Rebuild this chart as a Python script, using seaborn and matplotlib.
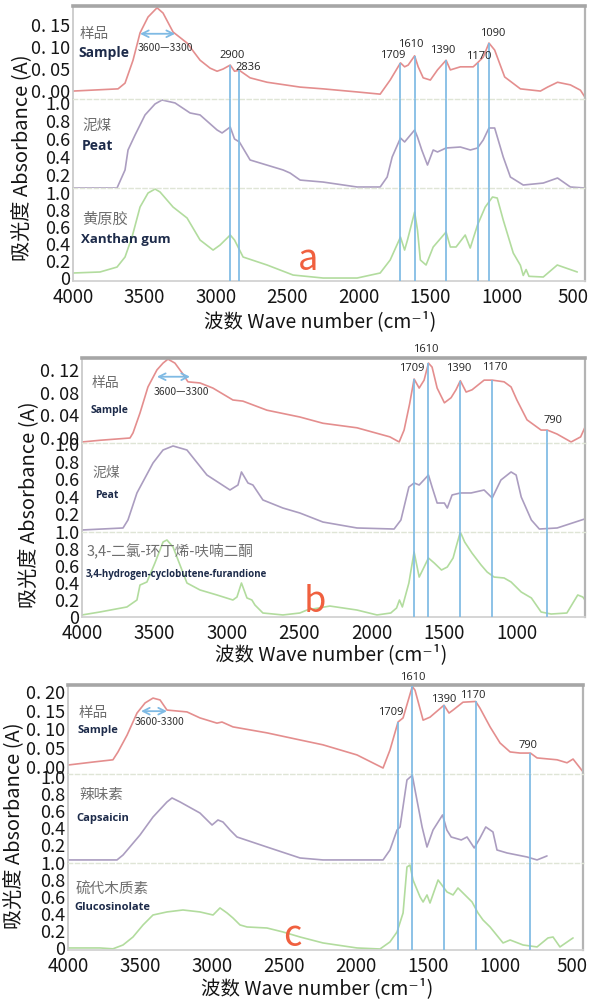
import numpy as np
import matplotlib.pyplot as plt
import seaborn as sns

W, H = 590, 1001

# ---------------- panel a ----------------
a_sample_wn = [4000, 3685, 3636, 3580, 3531, 3475, 3412, 3370, 3300, 3202, 3111, 3041, 2992, 2950, 2900, 2870,
               2836, 2761, 2642, 2411, 2250, 2012, 1851, 1781, 1709, 1680, 1655, 1610, 1585, 1550, 1500, 1450,
               1390, 1360, 1290, 1200, 1170, 1130, 1090, 1050, 980, 870, 730, 680, 610, 520, 450, 418]
a_sample_abs = [0.000, 0.005, 0.018, 0.070, 0.132, 0.168, 0.189, 0.177, 0.134, 0.109, 0.070, 0.052, 0.045, 0.050,
                0.059, 0.045, 0.047, 0.030, 0.020, 0.009, 0.005, -0.002, -0.007, 0.025, 0.064, 0.055, 0.059, 0.080,
                0.055, 0.030, 0.025, 0.048, 0.070, 0.048, 0.055, 0.055, 0.064, 0.077, 0.109, 0.093, 0.032, 0.005,
                0.000, 0.009, 0.020, 0.014, 0.002, -0.014]

a_peat_wn = [4000, 3692, 3636, 3615, 3566, 3496, 3426, 3377, 3286, 3181, 3111, 2992, 2957, 2900, 2870, 2836,
             2761, 2530, 2481, 2411, 2250, 2012, 1851, 1802, 1767, 1709, 1680, 1610, 1590, 1560, 1520, 1480,
             1450, 1390, 1290, 1220, 1170, 1130, 1090, 1050, 990, 940, 850, 710, 610, 520, 418]
a_peat_abs = [0.056, 0.056, 0.256, 0.478, 0.644, 0.867, 0.989, 1.033, 1.000, 0.889, 0.867, 0.700, 0.667, 0.733,
              0.600, 0.567, 0.367, 0.256, 0.222, 0.144, 0.122, 0.067, 0.067, 0.178, 0.400, 0.611, 0.567, 0.700,
              0.622, 0.478, 0.311, 0.478, 0.456, 0.500, 0.511, 0.478, 0.500, 0.589, 0.722, 0.722, 0.400, 0.178,
              0.089, 0.111, 0.167, 0.067, 0.056]

a_xanthan_wn = [4000, 3811, 3692, 3636, 3587, 3531, 3475, 3426, 3391, 3300, 3202, 3111, 3020, 2971, 2900, 2870,
                2810, 2642, 2460, 2250, 2012, 1851, 1781, 1709, 1680, 1660, 1610, 1590, 1570, 1530, 1480, 1390,
                1360, 1320, 1256, 1221, 1170, 1116, 1065, 1032, 990, 920, 870, 850, 830, 810, 710, 612, 472]
a_xanthan_abs = [0.059, 0.071, 0.129, 0.247, 0.482, 0.835, 1.000, 1.047, 1.012, 0.835, 0.706, 0.447, 0.329,
                 0.388, 0.506, 0.447, 0.247, 0.153, 0.035, 0.000, 0.000, 0.059, 0.212, 0.482, 0.329, 0.447, 0.776,
                 0.565, 0.212, 0.153, 0.365, 0.541, 0.365, 0.365, 0.506, 0.353, 0.624, 0.835, 0.953, 0.941, 0.682,
                 0.294, 0.150, 0.030, 0.100, 0.020, 0.012, 0.153, 0.071]

a_peaks = [2900, 2836, 1709, 1610, 1390, 1170, 1090]
a_band = [3531, 3286]

# ---------------- panel b ----------------
b_sample_wn = [4000, 3876, 3669, 3648, 3600, 3545, 3483, 3441, 3407, 3359, 3310, 3269, 3186, 3097, 2959, 2890,
               2724, 2497, 2338, 2103, 1876, 1812, 1778, 1740, 1709, 1674, 1640, 1610, 1585, 1550, 1500, 1454,
               1420, 1390, 1350, 1309, 1226, 1170, 1088, 1040, 1000, 930, 833, 790, 723, 626, 560, 530]
b_sample_abs = [-0.007, -0.004, 0.000, 0.009, 0.044, 0.090, 0.120, 0.132, 0.139, 0.132, 0.115, 0.099, 0.097,
                0.088, 0.067, 0.065, 0.049, 0.037, 0.026, 0.018, 0.002, -0.007, 0.014, 0.060, 0.104, 0.088,
                0.102, 0.132, 0.125, 0.088, 0.062, 0.071, 0.085, 0.101, 0.081, 0.085, 0.102, 0.102, 0.099,
                0.090, 0.067, 0.032, 0.014, 0.014, 0.007, -0.007, 0.002, 0.019]

b_peat_wn = [4000, 3717, 3683, 3621, 3510, 3441, 3372, 3276, 3138, 2979, 2924, 2900, 2855, 2821, 2752, 2614,
             2497, 2338, 2103, 1847, 1800, 1745, 1709, 1674, 1610, 1585, 1550, 1500, 1480, 1447, 1390, 1316,
             1226, 1170, 1110, 1040, 1005, 970, 900, 845, 722, 530]
b_peat_abs = [0.023, 0.046, 0.137, 0.446, 0.789, 0.937, 0.983, 0.937, 0.651, 0.480, 0.537, 0.686, 0.560, 0.537,
              0.366, 0.274, 0.217, 0.114, 0.046, 0.034, 0.137, 0.514, 0.560, 0.537, 0.651, 0.514, 0.331, 0.331,
              0.274, 0.423, 0.446, 0.446, 0.480, 0.389, 0.594, 0.686, 0.651, 0.400, 0.137, 0.034, 0.046, 0.150]

b_furan_wn = [4000, 3876, 3690, 3621, 3600, 3552, 3497, 3441, 3414, 3372, 3324, 3276, 3186, 3069, 2959, 2931,
              2900, 2862, 2828, 2807, 2752, 2614, 2497, 2448, 2290, 2103, 1965, 1870, 1830, 1810, 1790, 1745,
              1709, 1674, 1640, 1610, 1570, 1520, 1480, 1440, 1415, 1390, 1360, 1310, 1247, 1205, 1157, 1088,
              1040, 970, 900, 833, 764, 655, 580, 545, 530]
b_furan_abs = [0.024, 0.059, 0.118, 0.200, 0.376, 0.412, 0.635, 0.882, 0.906, 0.824, 0.612, 0.400, 0.318, 0.259,
               0.200, 0.235, 0.400, 0.224, 0.200, 0.141, 0.047, 0.024, 0.047, 0.082, 0.129, 0.082, 0.024, 0.047,
               0.106, 0.200, 0.118, 0.400, 0.765, 0.470, 0.588, 0.694, 0.635, 0.553, 0.588, 0.694, 0.850, 1.000,
               0.882, 0.753, 0.612, 0.529, 0.470, 0.459, 0.412, 0.294, 0.224, 0.059, 0.035, 0.047, 0.259, 0.235,
               0.200]

b_peaks = [1709, 1610, 1390, 1170, 790]
b_band = [3483, 3255]

# ---------------- panel c ----------------
c_sample_wn = [4000, 3826, 3688, 3653, 3590, 3521, 3465, 3410, 3361, 3313, 3174, 3084, 2966, 2931, 2855, 2619,
               2389, 2230, 1994, 1813, 1765, 1709, 1674, 1610, 1591, 1535, 1487, 1390, 1355, 1327, 1258, 1170,
               1140, 1070, 1001, 931, 862, 790, 744, 605, 536, 494, 425]
c_sample_abs = [0.005, 0.013, 0.019, 0.040, 0.085, 0.144, 0.171, 0.184, 0.179, 0.152, 0.147, 0.131, 0.117,
                0.120, 0.107, 0.091, 0.072, 0.059, 0.032, -0.003, 0.045, 0.120, 0.131, 0.215, 0.205, 0.125,
                0.133, 0.165, 0.144, 0.152, 0.173, 0.175, 0.157, 0.107, 0.064, 0.040, 0.037, 0.037, 0.024,
                0.019, 0.011, 0.021, -0.013]

c_caps_wn = [4000, 3660, 3618, 3500, 3410, 3313, 3278, 3222, 3084, 3000, 2959, 2924, 2875, 2827, 2619, 2389,
             2230, 1813, 1765, 1716, 1695, 1647, 1610, 1591, 1542, 1508, 1466, 1400, 1370, 1340, 1270, 1230,
             1180, 1140, 1100, 1050, 1022, 952, 814, 744, 675]
c_caps_abs = [0.024, 0.024, 0.082, 0.318, 0.529, 0.706, 0.753, 0.706, 0.576, 0.435, 0.494, 0.470, 0.376, 0.294,
              0.176, 0.047, 0.024, 0.024, 0.141, 0.376, 0.412, 0.965, 1.020, 0.847, 0.412, 0.176, 0.376, 0.553,
              0.376, 0.294, 0.259, 0.294, 0.165, 0.282, 0.412, 0.353, 0.141, 0.106, 0.059, 0.024, 0.071]

c_gluc_wn = [4000, 3778, 3688, 3618, 3549, 3479, 3410, 3313, 3202, 3084, 2993, 2945, 2896, 2855, 2806, 2757,
             2619, 2507, 2389, 2230, 1994, 1834, 1765, 1716, 1674, 1647, 1626, 1605, 1556, 1535, 1508, 1487,
             1431, 1369, 1327, 1293, 1258, 1195, 1154, 1119, 1070, 1036, 980, 931, 841, 744, 668, 633, 585,
             515, 494]
c_gluc_abs = [0.000, 0.000, -0.010, 0.035, 0.129, 0.271, 0.388, 0.424, 0.447, 0.424, 0.388, 0.471, 0.412, 0.353,
              0.271, 0.247, 0.235, 0.188, 0.129, 0.059, 0.000, -0.012, 0.071, 0.188, 0.412, 0.953, 0.976, 0.800,
              0.600, 0.541, 0.624, 0.529, 0.800, 0.659, 0.624, 0.706, 0.647, 0.541, 0.412, 0.329, 0.247, 0.176,
              0.059, 0.094, 0.035, 0.012, 0.118, 0.129, 0.012, 0.094, 0.118]

c_peaks = [1709, 1610, 1390, 1170, 790]
c_band = [3493, 3313]

# ---------------- style ----------------
sns.set_theme(style="white")
plt.rcParams['font.family'] = ['Noto Sans CJK SC', 'DejaVu Sans']

RED = '#e48e8e'
PURPLE = '#ab9dc0'
GREEN = '#b2dc9e'
BLUE = '#7fbae4'
NAVY = '#1d2b4a'
GREY = '#6e6e6e'
LETTER = '#f0603f'

fig = plt.figure(figsize=(W / 100, H / 100), dpi=100)


def fxy(x, y):
    return x / W, 1 - y / H


def stack_axes(left, right, edges):
    axes = []
    for i in range(3):
        top, bottom = edges[i], edges[i + 1]
        axes.append(fig.add_axes([left / W, 1 - bottom / H, (right - left) / W, (bottom - top) / H]))
    return axes


def style_stack(axes, xlim, xticks, ylims, yticks, ylabels):
    for i, ax in enumerate(axes):
        ax.set_xlim(*xlim)
        ax.set_ylim(*ylims[i])
        ax.set_yticks(yticks[i], ylabels[i])
        ax.set_xlabel('')
        ax.set_ylabel('')
        ax.set_facecolor('white')
        ax.spines['left'].set_color('#c8c8c8')
        ax.spines['right'].set_color('#b4b4b4')
        ax.spines['right'].set_linewidth(1.6)
        ax.tick_params(axis='y', direction='in', length=3, color='#bdbdbd', labelsize=13, pad=2,
                       labelcolor='#151515')
        if i == 0:
            ax.spines['top'].set_color('#a6a6a6')
            ax.spines['top'].set_linewidth(2.6)
        else:
            ax.spines['top'].set_color('#dfe5d6')
            ax.spines['top'].set_linewidth(1.0)
            ax.spines['top'].set_linestyle((0, (3, 2)))
        if i < 2:
            ax.spines['bottom'].set_visible(False)
            ax.set_xticks(xticks)
            ax.tick_params(axis='x', labelbottom=False, length=0)
        else:
            ax.spines['bottom'].set_color('#d0d0d0')
            ax.set_xticks(xticks, [str(t) for t in xticks])
            ax.tick_params(axis='x', length=0, labelsize=13.5, pad=4, labelcolor='#151515')


def draw_curves(axes, series):
    for ax, (wn, ab, color) in zip(axes, series):
        sns.lineplot(x=wn, y=ab, ax=ax, color=color, lw=1.2, sort=False, estimator=None)


def draw_peaks(axes, peaks, sample_wn, sample_abs, offsets):
    tops = np.interp(peaks, sample_wn[::-1], sample_abs[::-1])
    ax0 = axes[0]
    ax0.vlines(peaks, ax0.get_ylim()[0], tops, color=BLUE, lw=1.25, zorder=3)
    for ax in axes[1:]:
        ax.vlines(peaks, *ax.get_ylim(), color=BLUE, lw=1.25, zorder=3)
    for p, t, (dx, dy) in zip(peaks, tops, offsets):
        ax0.annotate(str(p), xy=(p, t), xytext=(dx * 0.72, dy * 0.72), textcoords='offset points',
                     ha='center', va='center', fontsize=8, color='#222222', family=['Open Sans', 'DejaVu Sans'])


def draw_band(ax, band, level, label, label_xy):
    ax.annotate('', xy=(band[1], level), xytext=(band[0], level),
                arrowprops=dict(arrowstyle='<->', color=BLUE, lw=1.3, shrinkA=0, shrinkB=0))
    fig.text(*fxy(*label_xy), label, ha='center', va='center', fontsize=7.5, color='#333333')


def name_labels(items):
    for text, x, y, size, bold in items:
        if bold:
            fig.text(*fxy(x, y), text, ha='left', va='center', fontsize=size, color=NAVY, fontweight='bold',
                     family=['Open Sans', 'DejaVu Sans'])
        else:
            fig.text(*fxy(x, y), text, ha='left', va='center', fontsize=size, color=GREY)


def axis_titles(ylab_xy, xlab_xy):
    fig.text(*fxy(*ylab_xy), '吸光度 Absorbance (A)', rotation=90, ha='center', va='center', fontsize=14.5,
             color='#151515')
    fig.text(*fxy(*xlab_xy), '波数 Wave number (cm⁻¹)', ha='center', va='center', fontsize=14,
             color='#151515')


# ---------------- panel a ----------------
axes_a = stack_axes(73, 585, [6, 99, 188, 281])
draw_curves(axes_a, [(a_sample_wn, a_sample_abs, RED), (a_peat_wn, a_peat_abs, PURPLE),
                     (a_xanthan_wn, a_xanthan_abs, GREEN)])
style_stack(axes_a, (4000, 418), [4000, 3500, 3000, 2500, 2000, 1500, 1000, 500],
            [(-0.018, 0.193), (0.056, 1.044), (-0.035, 1.059)],
            [[0, 0.05, 0.10, 0.15], [0.2, 0.4, 0.6, 0.8, 1.0], [0, 0.2, 0.4, 0.6, 0.8, 1.0]],
            [['0. 00', '0. 05', '0. 10', '0. 15'], ['0.2', '0.4', '0.6', '0.8', '1.0'],
             ['0', '0.2', '0.4', '0.6', '0.8', '1.0']])
draw_peaks(axes_a, a_peaks, a_sample_wn, a_sample_abs,
           [(2, 10), (9, 3), (-8, 7), (-4, 11), (-3, 10), (1, 6), (4, 10)])
draw_band(axes_a[0], a_band, 0.130, '3600—3300', (165, 48))
name_labels([('样品', 80, 34, 10.5, False), ('Sample', 78, 53, 10, True),
             ('泥煤', 82, 126, 10.5, False), ('Peat', 82, 146, 10, True),
             ('黄原胶', 82, 219, 11, False), ('Xanthan gum', 81, 239, 9.5, True)])
fig.text(*fxy(308, 270), 'a', ha='center', va='baseline', fontsize=26, color=LETTER)
axis_titles((22, 158), (320, 322))

# ---------------- panel b ----------------
axes_b = stack_axes(82, 585, [358, 443, 532, 617])
draw_curves(axes_b, [(b_sample_wn, b_sample_abs, RED), (b_peat_wn, b_peat_abs, PURPLE),
                     (b_furan_wn, b_furan_abs, GREEN)])
style_stack(axes_b, (4000, 530), [4000, 3500, 3000, 2500, 2000, 1500, 1000],
            [(-0.0088, 0.141), (0.0, 1.017), (0.0, 1.0)],
            [[0, 0.04, 0.08, 0.12], [0.2, 0.4, 0.6, 0.8, 1.0], [0, 0.2, 0.4, 0.6, 0.8, 1.0]],
            [['0. 00', '0. 04', '0. 08', '0. 12'], ['0.2', '0.4', '0.6', '0.8', '1.0'],
             ['0', '0.2', '0.4', '0.6', '0.8', '1.0']])
draw_peaks(axes_b, b_peaks, b_sample_wn, b_sample_abs,
           [(-2, 10), (-3, 14), (-2, 12), (3, 13), (6, 10)])
draw_band(axes_b[0], b_band, 0.108, '3600—3300', (181, 392))
name_labels([('样品', 92, 383, 10, False), ('Sample', 91, 411, 7.5, True),
             ('泥煤', 92, 473, 10, False), ('Peat', 95, 496, 7.5, True),
             ('3,4-二氯-环丁烯-呋喃二酮', 87, 552, 10.5, False),
             ('3,4-hydrogen-cyclobutene-furandione', 86, 574, 7, True)])
fig.text(*fxy(315, 612), 'b', ha='center', va='baseline', fontsize=26, color=LETTER)
axis_titles((29, 505), (331, 655))

# ---------------- panel c ----------------
axes_c = stack_axes(68, 583, [685, 774, 863, 950])
draw_curves(axes_c, [(c_sample_wn, c_sample_abs, RED), (c_caps_wn, c_caps_abs, PURPLE),
                     (c_gluc_wn, c_gluc_abs, GREEN)])
style_stack(axes_c, (4000, 425), [4000, 3500, 3000, 2500, 2000, 1500, 1000, 500],
            [(-0.019, 0.219), (-0.012, 1.035), (-0.024, 1.0)],
            [[0, 0.05, 0.10, 0.15, 0.20], [0.2, 0.4, 0.6, 0.8, 1.0], [0, 0.2, 0.4, 0.6, 0.8, 1.0]],
            [['0. 00', '0. 05', '0. 10', '0. 15', '0. 20'], ['0.2', '0.4', '0.6', '0.8', '1.0'],
             ['0', '0.2', '0.4', '0.6', '0.8', '1.0']])
draw_peaks(axes_c, c_peaks, c_sample_wn, c_sample_abs,
           [(-7, 10), (0, 9), (0, 6), (-3, 6), (-2, 8)])
draw_band(axes_c[0], c_band, 0.149, '3600-3300', (160, 722))
name_labels([('样品', 79, 713, 10.5, False), ('Sample', 78, 730, 8, True),
             ('辣味素', 79, 795, 10.5, False), ('Capsaicin', 76, 818, 8, True),
             ('硫代木质素', 76, 890, 10.5, False), ('Glucosinolate', 74, 907, 8, True)])
fig.text(*fxy(292, 946), 'c', ha='center', va='baseline', fontsize=26, color=LETTER)
axis_titles((14, 826), (317, 989))

fig.savefig('out.png', dpi=100, facecolor='white')
